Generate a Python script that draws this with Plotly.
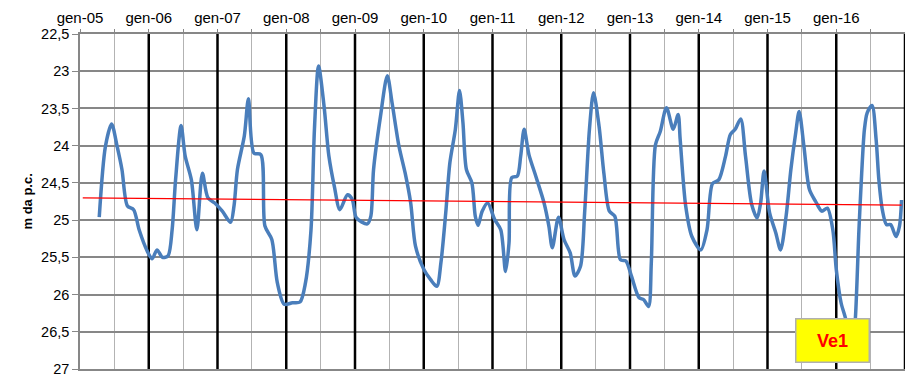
import plotly.graph_objects as go

# time as decimal year, level in m below ground (m da p.c.)
t = [2005.28, 2005.37, 2005.46, 2005.54, 2005.61, 2005.69, 2005.78, 2005.86, 2005.98,
     2006.05, 2006.12, 2006.20, 2006.28, 2006.34, 2006.39, 2006.47, 2006.53, 2006.62,
     2006.70, 2006.78, 2006.86, 2006.96, 2007.07, 2007.19, 2007.24, 2007.29, 2007.39,
     2007.45, 2007.53, 2007.63, 2007.69, 2007.79, 2007.87, 2007.97, 2008.09, 2008.20,
     2008.28, 2008.36, 2008.41, 2008.47, 2008.55, 2008.62, 2008.70, 2008.78, 2008.89,
     2008.96, 2009.02, 2009.18, 2009.23, 2009.27, 2009.37, 2009.47, 2009.54, 2009.64,
     2009.73, 2009.81, 2009.88, 2010.00, 2010.10, 2010.19, 2010.25, 2010.32, 2010.38,
     2010.46, 2010.52, 2010.57, 2010.62, 2010.70, 2010.75, 2010.79, 2010.85, 2010.93,
     2011.03, 2011.12, 2011.19, 2011.24, 2011.28, 2011.36, 2011.41, 2011.46, 2011.53,
     2011.63, 2011.75, 2011.82, 2011.87, 2011.96, 2012.04, 2012.13, 2012.20, 2012.28,
     2012.34, 2012.41, 2012.47, 2012.55, 2012.62, 2012.70, 2012.78, 2012.86, 2012.94,
     2013.02, 2013.13, 2013.20, 2013.27, 2013.31, 2013.37, 2013.44, 2013.53, 2013.63,
     2013.70, 2013.73, 2013.81, 2013.90, 2014.03, 2014.12, 2014.20, 2014.29, 2014.39,
     2014.46, 2014.53, 2014.61, 2014.68, 2014.77, 2014.85, 2014.90, 2014.95, 2015.03,
     2015.12, 2015.19, 2015.27, 2015.34, 2015.41, 2015.46, 2015.53, 2015.61, 2015.70,
     2015.79, 2015.87, 2015.95, 2016.00, 2016.07, 2016.14, 2016.20, 2016.25, 2016.28,
     2016.33, 2016.37, 2016.41, 2016.45, 2016.52, 2016.58, 2016.62, 2016.67, 2016.73,
     2016.79, 2016.87, 2016.92, 2016.95]
level = [24.96, 24.01, 23.71, 24.01, 24.32, 24.81, 24.86, 25.13, 25.42,
         25.52, 25.40, 25.50, 25.48, 25.13, 24.46, 23.73, 24.14, 24.46,
         25.13, 24.37, 24.70, 24.77, 24.88, 25.03, 24.81, 24.32, 23.87,
         23.37, 24.10, 24.12, 25.08, 25.26, 25.84, 26.13, 26.11, 26.10,
         25.84, 25.13, 23.78, 22.93, 23.47, 24.14, 24.55, 24.86, 24.66,
         24.72, 24.97, 25.05, 24.95, 24.32, 23.61, 23.06, 23.43, 24.01,
         24.37, 24.77, 25.35, 25.66, 25.80, 25.89, 25.57, 24.90, 24.23,
         23.78, 23.26, 23.69, 24.32, 24.50, 24.95, 25.07, 24.88, 24.77,
         24.99, 25.13, 25.69, 25.31, 24.43, 24.41, 24.14, 23.78, 24.12,
         24.41, 24.77, 25.08, 25.37, 24.96, 25.26, 25.44, 25.75, 25.62,
         24.90, 23.78, 23.29, 23.74, 24.37, 24.88, 24.95, 25.53, 25.55,
         25.75, 26.04, 26.07, 26.16, 25.57, 23.99, 23.81, 23.49, 23.78,
         23.58, 23.92, 24.81, 25.22, 25.40, 25.13, 24.51, 24.46, 24.14,
         23.85, 23.78, 23.64, 24.14, 24.79, 24.97, 24.77, 24.34, 24.90,
         25.17, 25.40, 24.95, 24.32, 23.83, 23.54, 24.01, 24.59, 24.75,
         24.88, 24.84, 25.13, 25.66, 26.11, 26.34, 26.75, 26.60, 26.29,
         25.13, 24.37, 23.78, 23.56, 23.46, 23.92, 24.46, 24.86, 25.06,
         25.06, 25.22, 25.08, 24.73]

trend_t = [2005.04, 2016.95]
trend_level = [24.70, 24.80]

years = list(range(2005, 2018))
y_ticks = [22.5, 23, 23.5, 24, 24.5, 25, 25.5, 26, 26.5, 27]

half_ticks = [y + h for y in years[:-1] for h in (0.0, 0.5)] + [years[-1]]
half_text = [("gen-%02d" % (int(v) % 100)) if (v == int(v) and v < years[-1]) else "" for v in half_ticks]

# black year separator lines (Jan of each year after the first)
sep_x, sep_y = [], []
for y in years[1:]:
    sep_x += [y, y, None]
    sep_y += [y_ticks[0], y_ticks[-1], None]

fig = go.Figure()
fig.add_trace(go.Scatter(x=sep_x, y=sep_y, mode="lines",
                         line=dict(color="black", width=2.5), hoverinfo="skip", showlegend=False))
fig.add_trace(go.Scatter(x=t, y=level, mode="lines",
                         line=dict(color="#4a7ebb", width=3.5, shape="spline", smoothing=0.8),
                         showlegend=False))
fig.add_trace(go.Scatter(x=trend_t, y=trend_level, mode="lines",
                         line=dict(color="#ff0000", width=1.3), showlegend=False))

# the page body has an 8px margin, so the figure is sized/offset to compensate
fig.update_layout(
    width=905, height=378,
    margin=dict(l=72, r=8, t=26, b=17),
    paper_bgcolor="white", plot_bgcolor="white",
    separators=",.",
    font=dict(family="Liberation Sans, Arial, sans-serif", color="black"),
    xaxis=dict(range=[2005, 2017], side="top", tickvals=half_ticks, ticktext=half_text,
               showgrid=True, gridcolor="#b3b3b3", gridwidth=1.3,
               showline=True, linecolor="#878787", linewidth=1.5, mirror=True,
               ticks="outside", ticklen=3, tickcolor="#878787",
               tickfont=dict(size=15), zeroline=False, automargin=False),
    yaxis=dict(range=[27, 22.5], tickvals=y_ticks,
               showgrid=True, gridcolor="#878787", gridwidth=1.5,
               showline=True, linecolor="#878787", linewidth=1.5,
               ticks="outside", ticklen=6, tickcolor="#878787",
               tickfont=dict(size=14.5), zeroline=False, automargin=False),
    annotations=[
        dict(text="<b>Ve1</b>", xref="paper", yref="paper", x=0.9127, y=0.086,
             xanchor="center", yanchor="middle", showarrow=False,
             font=dict(size=18, color="#ff0000"),
             bgcolor="#ffff00", bordercolor="#b0b0b0", borderwidth=1.5,
             width=70, height=40),
        dict(text="<b>m da p.c.</b>", xref="paper", yref="paper", x=-0.0642, y=0.5,
             xanchor="center", yanchor="middle", showarrow=False, textangle=-90,
             font=dict(size=13, color="black")),
    ],
)

fig.write_html("out.html")
